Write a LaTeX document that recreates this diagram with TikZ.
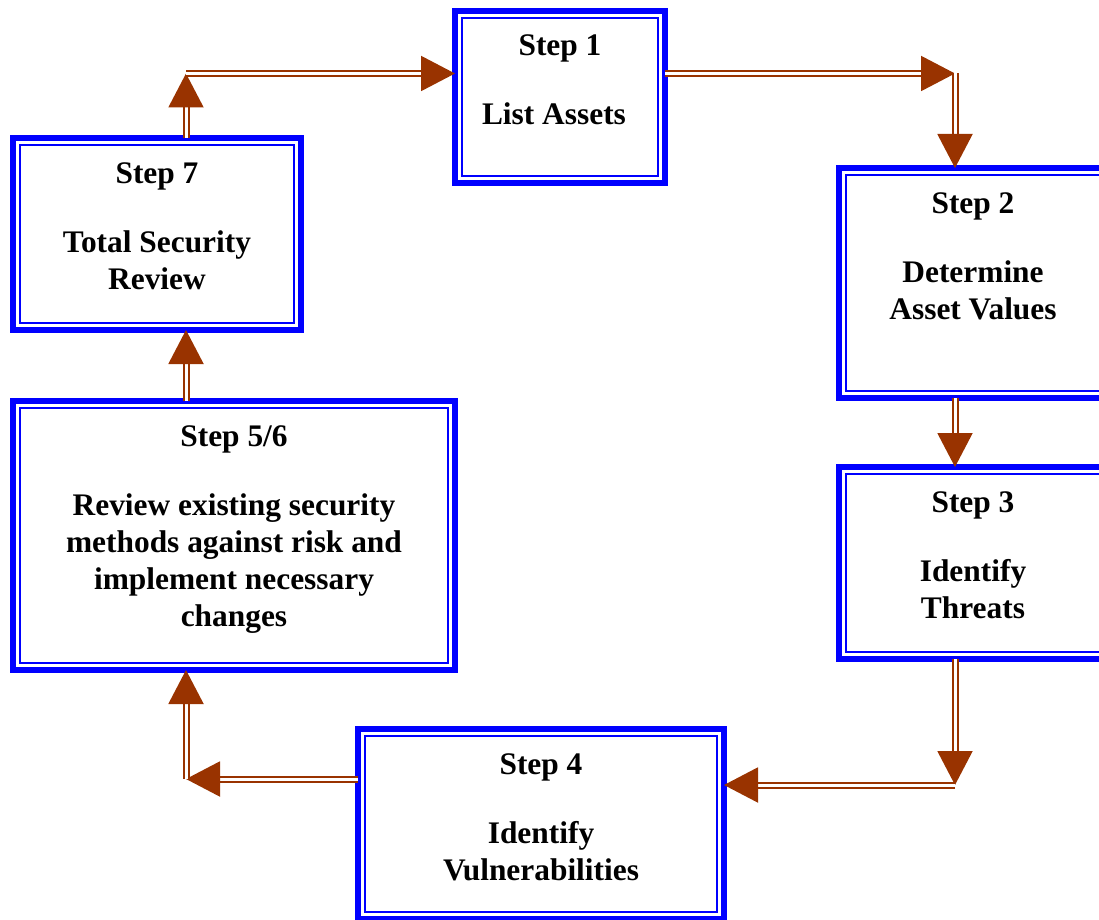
\documentclass[tikz,border=0pt]{standalone}
\usepackage{fontspec}
\setmainfont{Liberation Serif}
\usetikzlibrary{arrows.meta, positioning}
\definecolor{stepblue}{HTML}{0000FF}
\definecolor{arrowbrown}{HTML}{993300}
\newcommand{\steptext}[3]{\parbox[c][#2][t]{#1}{\centering\rule{0pt}{22.5pt}#3}}
\tikzset{
stepbox/.style={draw=stepblue, line width=3pt, inner sep=0pt, outer sep=0pt, font=\fontsize{15.7}{18.5}\selectfont\bfseries}, % thick outer border of a step
innerline/.style={draw=stepblue, line width=1pt}, % thin line just inside the border
conn/.style={draw=arrowbrown, line width=1pt, double=white, double distance=1.5pt, -{Triangle[length=17pt, width=17.5pt]}}, % hollow double connector
}

\begin{document}
\begin{tikzpicture}[x=0.5pt, y=0.5pt]
        \useasboundingbox (0,0) rectangle (1099,-920);
        \node[stepbox] (1) at (560,-97) {\steptext{105pt}{86pt}{Step 1\\[16pt]List Assets\hspace*{6pt}}};
        \node[stepbox] (2) at (973,-283) {\steptext{134pt}{115pt}{Step 2\\[16pt]Determine\\Asset Values}};
        \node[stepbox, below=34.5pt of 2] (3) {\steptext{134pt}{96pt}{Step 3\\[16pt]Identify\\Threats}};
        \node[stepbox] (4) at (541,-824) {\steptext{183pt}{95pt}{Step 4\\[16pt]Identify\\Vulnerabilities}};
        \node[stepbox] (56) at (234,-535.5) {\steptext{221pt}{134.5pt}{Step 5/6\\[16pt]Review existing security\\methods against risk and\\implement necessary\\changes}};
        \node[stepbox, above right=35.5pt and 0pt of 56.north west] (7) {\steptext{144pt}{96pt}{Step 7\\[16pt]Total Security\\Review}};
        \foreach \n in {1,2,3,4,56,7}
                \draw[innerline] ([shift={(3.3pt,-3.3pt)}]\n.north west) rectangle ([shift={(-3.3pt,3.3pt)}]\n.south east);
        % corners where the connectors turn
        \coordinate (a) at (186,-73.5);
        \coordinate (b) at (955,-73.5);
        \coordinate (c) at (955,-785);
        \coordinate (d) at (186,-779);
        \draw[conn] (7.north -| a) -- (a);
        \draw[conn] (a) -- (a -| 1.west);
        \draw[conn] (a -| 1.east) -- (b);
        \draw[conn] (b) -- (b |- 2.north);
        \draw[conn] (c |- 2.south) -- (c |- 3.north);
        \draw[conn] (c |- 3.south) -- (c);
        \draw[conn] (c) -- (c -| 4.east);
        \draw[conn] (d -| 4.west) -- (d);
        \draw[conn] (d) -- (d |- 56.south);
        \draw[conn] (d |- 56.north) -- (d |- 7.south);
\end{tikzpicture}
\end{document}
